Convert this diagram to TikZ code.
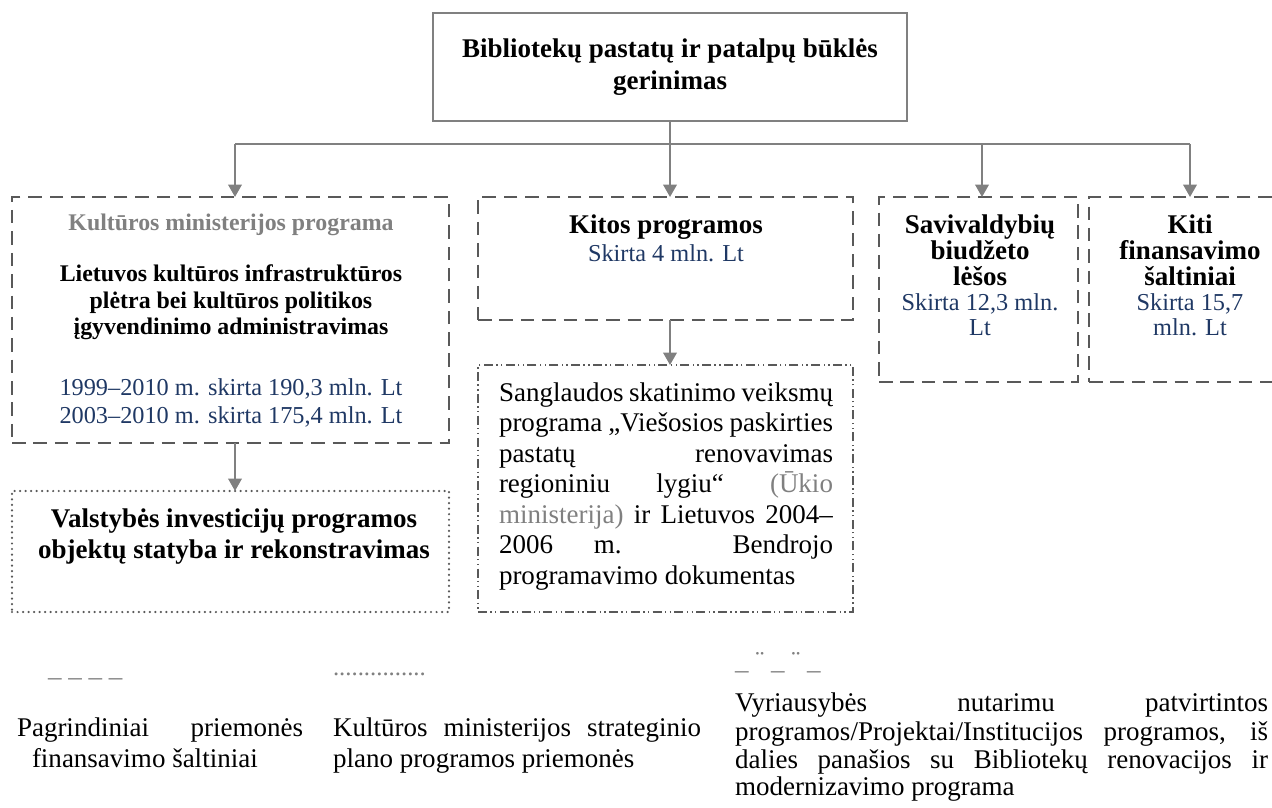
\documentclass[tikz,border=0pt]{standalone}
\usepackage{fontspec}
\setmainfont{Liberation Serif}
\usetikzlibrary{arrows.meta}
\newlength\pxl \setlength\pxl{0.4444pt}
\definecolor{conncol}{RGB}{128,128,128}
\definecolor{boxcol}{RGB}{89,89,89}
\definecolor{txtblue}{RGB}{31,56,100}
\definecolor{txtgray}{RGB}{128,128,128}
\begin{document}
\begin{tikzpicture}[x=0.4444pt, y=-0.4444pt,
  every node/.style={inner sep=0pt, outer sep=0pt},
  titlebox/.style={draw=conncol, line width=1.1pt, minimum width=474\pxl, minimum height=108\pxl},
  dashbox/.style={draw=boxcol, line width=0.9pt, dash pattern=on 6pt off 3.5pt},
  dotbox/.style={draw=boxcol, line width=1.1pt, line cap=round, dash pattern=on 0pt off 2.45pt},
  dddbox/.style={draw=boxcol, line width=0.6pt, dash pattern=on 4pt off 1.5pt on 0.6pt off 1.5pt on 0.6pt off 1.5pt},
  conn/.style={draw=conncol, line width=0.9pt},
  arr/.style={conn, -{Triangle[width=6pt,length=5.5pt]}},
  tx/.style={font=\fontsize{12}{14}\selectfont},
  bx/.style={font=\fontsize{12}{14}\selectfont\bfseries},
  sbx/.style={font=\fontsize{10.6}{12}\selectfont\bfseries},
  bl/.style={font=\fontsize{10.8}{12}\selectfont, text=txtblue},
  mk/.style={font=\fontsize{12}{14}\selectfont, text=txtgray},
]
\path[use as bounding box] (0,0) rectangle (1272,808);
\clip (0,0) rectangle (1272,808);

% boxes
\node[titlebox] (top) at (670,67) {};
\node[dashbox, minimum width=437\pxl, minimum height=246\pxl] (kult) at (230.5,320) {};
\node[dashbox, minimum width=375\pxl, minimum height=123\pxl] (kitos) at (665.5,258.5) {};
\node[dashbox, minimum width=199\pxl, minimum height=185\pxl] (sav) at (978.5,289.5) {};
\node[dashbox, minimum width=202\pxl, minimum height=185\pxl] (kiti) at (1190,289.5) {};
\node[dotbox, minimum width=437\pxl, minimum height=121\pxl] (valst) at (230.5,551.5) {};
\node[dddbox, minimum width=375\pxl, minimum height=247\pxl] (sang) at (665.5,488.5) {};

% connectors
\coordinate (barL) at (235,144);
\coordinate (barS) at (982,144);
\coordinate (barR) at (1190,144);
\draw[conn] (barL) -- (barR);
\draw[arr] (top.south) -- (top.south |- kitos.north);
\draw[arr] (barL) -- (barL |- kult.north);
\draw[arr] (barS) -- (barS |- sav.north);
\draw[arr] (barR) -- (barR |- kiti.north);
\draw[arr] (kult.south -| barL) -- (barL |- valst.north);
\draw[arr] (kitos.south -| top.south) -- (top.south |- sang.north);

% title
\node[bx, anchor=base] (t1) at (670,58) {Bibliotekų pastatų ir patalpų būklės};
\node[bx, anchor=base] (t2) at (670,90) {gerinimas};

% Kulturos ministerijos programa
\node[sbx, text=txtgray, anchor=base] (k0) at (231,230) {Kultūros ministerijos programa};
\node[sbx, anchor=base] (k1) at (231,281) {Lietuvos kultūros infrastruktūros};
\node[sbx, anchor=base] (k2) at (231,308) {plėtra bei kultūros politikos};
\node[sbx, anchor=base] (k3) at (231,334) {įgyvendinimo administravimas};
\node[bl, anchor=base] (k4) at (231,395) {1999–2010 m. skirta 190,3 mln. Lt};
\node[bl, anchor=base] (k5) at (231,423) {2003–2010 m. skirta 175,4 mln. Lt};

% Kitos programos
\node[bx, anchor=base] (p1) at (666,233) {Kitos programos};
\node[bl, anchor=base] (p2) at (666,261) {Skirta 4 mln. Lt};

% Savivaldybiu
\node[bx, anchor=base] (s1) at (980,233) {Savivaldybių};
\node[bx, anchor=base] (s2) at (980,259) {biudžeto};
\node[bx, anchor=base] (s3) at (980,285) {lėšos};
\node[bl, anchor=base] (s4) at (980,310) {Skirta 12,3 mln.};
\node[bl, anchor=base] (s5) at (980,335) {Lt};

% Kiti
\node[bx, anchor=base] (f1) at (1190,233) {Kiti};
\node[bx, anchor=base] (f2) at (1190,259) {finansavimo};
\node[bx, anchor=base] (f3) at (1190,285) {šaltiniai};
\node[bl, anchor=base] (f4) at (1190,310) {Skirta 15,7};
\node[bl, anchor=base] (f5) at (1190,335) {mln. Lt};

% Valstybes
\node[bx, anchor=base] (v1) at (234,527) {Valstybės investicijų programos};
\node[bx, anchor=base] (v2) at (234,558) {objektų statyba ir rekonstravimas};

% Sanglaudos
\node[tx, anchor=base west] (g1) at (499,401) {\makebox[334\pxl][s]{Sanglaudos skatinimo veiksmų}};
\node[tx, anchor=base west] (g2) at (499,431.5) {\makebox[334\pxl][s]{programa „Viešosios paskirties}};
\node[tx, anchor=base west] (g3) at (499,462) {\makebox[334\pxl][s]{pastatų renovavimas}};
\node[tx, anchor=base west] (g4) at (499,492.5) {\makebox[334\pxl][s]{regioniniu lygiu“ \textcolor{txtgray}{(Ūkio}}};
\node[tx, anchor=base west] (g5) at (499,523) {\makebox[334\pxl][s]{\textcolor{txtgray}{ministerija)} ir Lietuvos 2004–}};
\node[tx, anchor=base west] (g6) at (499,553.5) {\makebox[334\pxl][s]{2006 m. Bendrojo}};
\node[tx, anchor=base west] (g7) at (499,584) {programavimo dokumentas};

% legend marks
\node[mk, anchor=base west] (m1) at (48,676) {\_ \_ \_ \_};
\node[mk, font=\fontsize{11}{12}\selectfont, anchor=base west] (m2) at (333,675) {...............};
\node[mk, anchor=base west] (m3) at (735,669) {\_ ¨ \_ ¨ \_};

% legend texts
\node[tx, anchor=base west] (l1) at (17,736) {\makebox[286\pxl][s]{Pagrindiniai priemonės}};
\node[tx, anchor=base west] (l2) at (32,767) {finansavimo šaltiniai};
\node[tx, anchor=base west] (l3) at (333,736) {\makebox[368\pxl][s]{Kultūros ministerijos strateginio}};
\node[tx, anchor=base west] (l4) at (333,767) {plano programos priemonės};
\node[tx, anchor=base west] (l5) at (735,711) {\makebox[533\pxl][s]{Vyriausybės nutarimu patvirtintos}};
\node[tx, anchor=base west] (l6) at (735,740) {\makebox[533\pxl][s]{programos/Projektai/Institucijos programos, iš}};
\node[tx, anchor=base west] (l7) at (735,768) {\makebox[533\pxl][s]{dalies panašios su Bibliotekų renovacijos ir}};
\node[tx, anchor=base west] (l8) at (735,795) {modernizavimo programa};
\end{tikzpicture}
\end{document}
